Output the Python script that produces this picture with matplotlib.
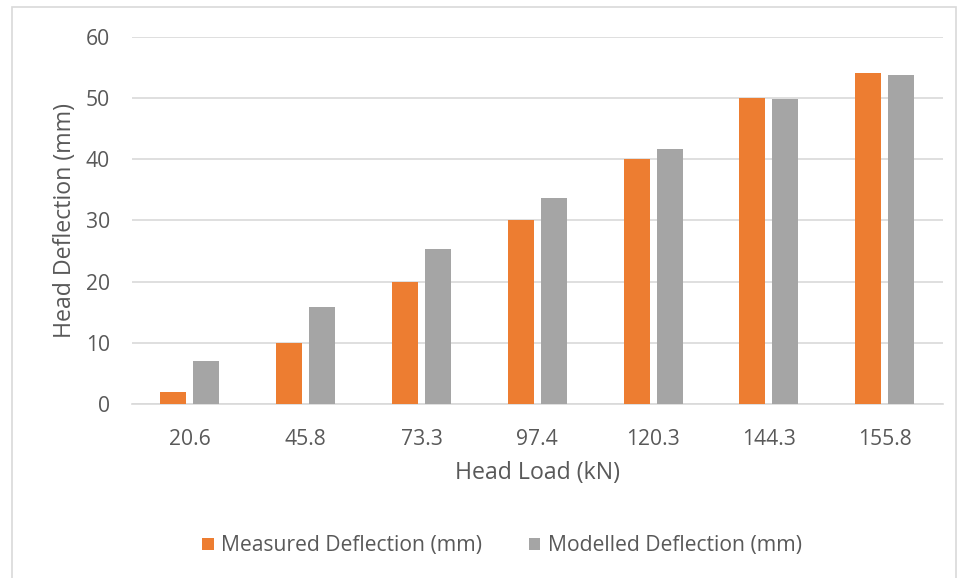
import matplotlib.pyplot as plt
import matplotlib.patches as mpatches
import numpy as np

# Pile head load vs. deflection
head_load = ['20.6', '45.8', '73.3', '97.4', '120.3', '144.3', '155.8']
measured = [2, 10, 20, 30, 40, 50, 54]           # mm
modelled = [7.1, 15.8, 25.4, 33.7, 41.6, 49.8, 53.8]  # mm

plt.rcParams['font.family'] = ['Open Sans', 'DejaVu Sans']
text_col = '#595959'
grid_col = '#D9D9D9'

fig = plt.figure(figsize=(9.58, 5.78), dpi=100)
ax = fig.add_axes([0.1378, 0.301, 0.8462, 0.6355])

x = np.arange(len(head_load))
width = 0.225
off = 0.1425

ax.bar(x - off, measured, width, color='#ED7D31', label='Measured Deflection (mm)', zorder=3)
ax.bar(x + off, modelled, width, color='#A5A5A5', label='Modelled Deflection (mm)', zorder=3)

ax.set_xlim(-0.5, len(head_load) - 0.5)
ax.set_ylim(0, 60)
ax.set_yticks(range(0, 61, 10))
ax.set_xticks(x)
ax.set_xticklabels(head_load)
ax.yaxis.grid(True, color=grid_col, linewidth=1.2, zorder=0)
ax.set_axisbelow(True)
for s in ['top', 'right', 'left']:
    ax.spines[s].set_visible(False)
ax.spines['bottom'].set_color(grid_col)
ax.spines['bottom'].set_linewidth(1.2)
ax.tick_params(axis='both', length=0, labelsize=15.2, labelcolor=text_col)
ax.tick_params(axis='x', pad=18)
ax.tick_params(axis='y', pad=16)

ax.set_xlabel('Head Load (kN)', fontsize=16.7, color=text_col, labelpad=8)
ax.set_ylabel('Head Deflection (mm)', fontsize=16.7, color=text_col, labelpad=6.5)

fig.legend(loc='center', bbox_to_anchor=(0.524, 1 - 546 / 578), ncol=2, frameon=False,
           fontsize=15.2, labelcolor=text_col, handlelength=0.55, handleheight=0.55,
           handletextpad=0.35, columnspacing=2.2)

# light chart-area border
fig.patches.append(mpatches.Rectangle((12 / 958, -0.01), 944 / 958, 1 - 7 / 578 + 0.01,
                                      transform=fig.transFigure, fill=False,
                                      edgecolor=grid_col, linewidth=1.2))

fig.savefig('out.png', dpi=100)
